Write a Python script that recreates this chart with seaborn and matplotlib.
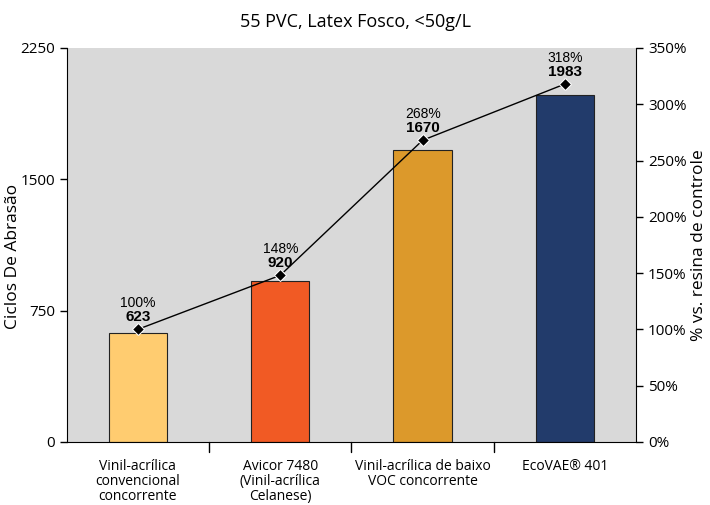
import matplotlib
matplotlib.use("Agg")
import matplotlib.pyplot as plt
import pandas as pd
import seaborn as sns

# Data
categories = ["Vinil-acrílica\nconvencional\nconcorrente",
              "Avicor 7480\n(Vinil-acrílica\nCelanese)",
              "Vinil-acrílica de baixo\nVOC concorrente",
              "EcoVAE® 401"]
cycles = [623, 920, 1670, 1983]
pct = [100, 148, 268, 318]
colors = ["#FFCC70", "#F15A24", "#DC992B", "#223B6B"]

df = pd.DataFrame({"cat": categories, "cycles": cycles, "pct": pct})

sns.set_style("white")
plt.rcParams["font.family"] = ["Open Sans", "DejaVu Sans"]
plt.rcParams["text.color"] = "black"
plt.rcParams["axes.labelcolor"] = "black"
plt.rcParams["xtick.color"] = "black"
plt.rcParams["ytick.color"] = "black"

fig = plt.figure(figsize=(7.1, 5.05), dpi=100)
ax = fig.add_axes([0.094, 0.125, 0.802, 0.78])
ax.set_facecolor("#D9D9D9")

sns.barplot(data=df, x="cat", y="cycles", hue="cat", palette=colors, saturation=1,
            width=0.41, edgecolor="#222222", linewidth=0.8, legend=False, ax=ax)

ax.set_ylim(0, 2250)
ax.set_yticks([0, 750, 1500, 2250])
ax.set_xlim(-0.5, 3.5)
ax.set_xticks([0, 1, 2, 3])
ax.set_xticklabels(categories, fontsize=10, linespacing=1.0)
ax.tick_params(axis="x", length=0, pad=12)
ax.tick_params(axis="y", length=5, width=1, direction="out", labelsize=11, left=True)
ax.set_xlabel("")
ax.set_ylabel("Ciclos De Abrasão", fontsize=12.5)
ax.yaxis.set_label_coords(-0.08, 0.47)
for x in [0.5, 1.5, 2.5]:
    ax.plot([x, x], [0, -0.025], transform=ax.get_xaxis_transform(),
            color="black", lw=1, clip_on=False)
for s in ["top", "right"]:
    ax.spines[s].set_visible(False)
ax.spines["left"].set_color("black")
ax.spines["bottom"].set_color("black")

# Secondary axis
ax2 = ax.twinx()
sns.lineplot(x=[0, 1, 2, 3], y=pct, color="black", lw=1, marker="D",
             markersize=6, ax=ax2)
ax2.set_ylim(0, 350)
ax2.set_yticks(range(0, 351, 50))
ax2.set_yticklabels([f"{v}%" for v in range(0, 351, 50)])
ax2.tick_params(axis="y", length=5, width=1, direction="out", labelsize=11, right=True)
ax2.set_ylabel("% vs. resina de controle", fontsize=12.5, labelpad=3)
for s in ["top", "left"]:
    ax2.spines[s].set_visible(False)
ax2.spines["right"].set_color("black")
ax2.spines["bottom"].set_visible(False)

for i, (c, p) in enumerate(zip(cycles, pct)):
    ax2.annotate(f"{c}", (i, p), xytext=(0, 3.5), textcoords="offset points",
                 ha="center", va="bottom", fontsize=11, fontweight="bold",
                 family="Liberation Sans")
    ax2.annotate(f"{p}%", (i, p), xytext=(0, 14), textcoords="offset points",
                 ha="center", va="bottom", fontsize=10, family="Liberation Sans")

fig.suptitle("55 PVC, Latex Fosco, <50g/L", fontsize=13, y=0.975)

fig.savefig("out.png", dpi=100)
